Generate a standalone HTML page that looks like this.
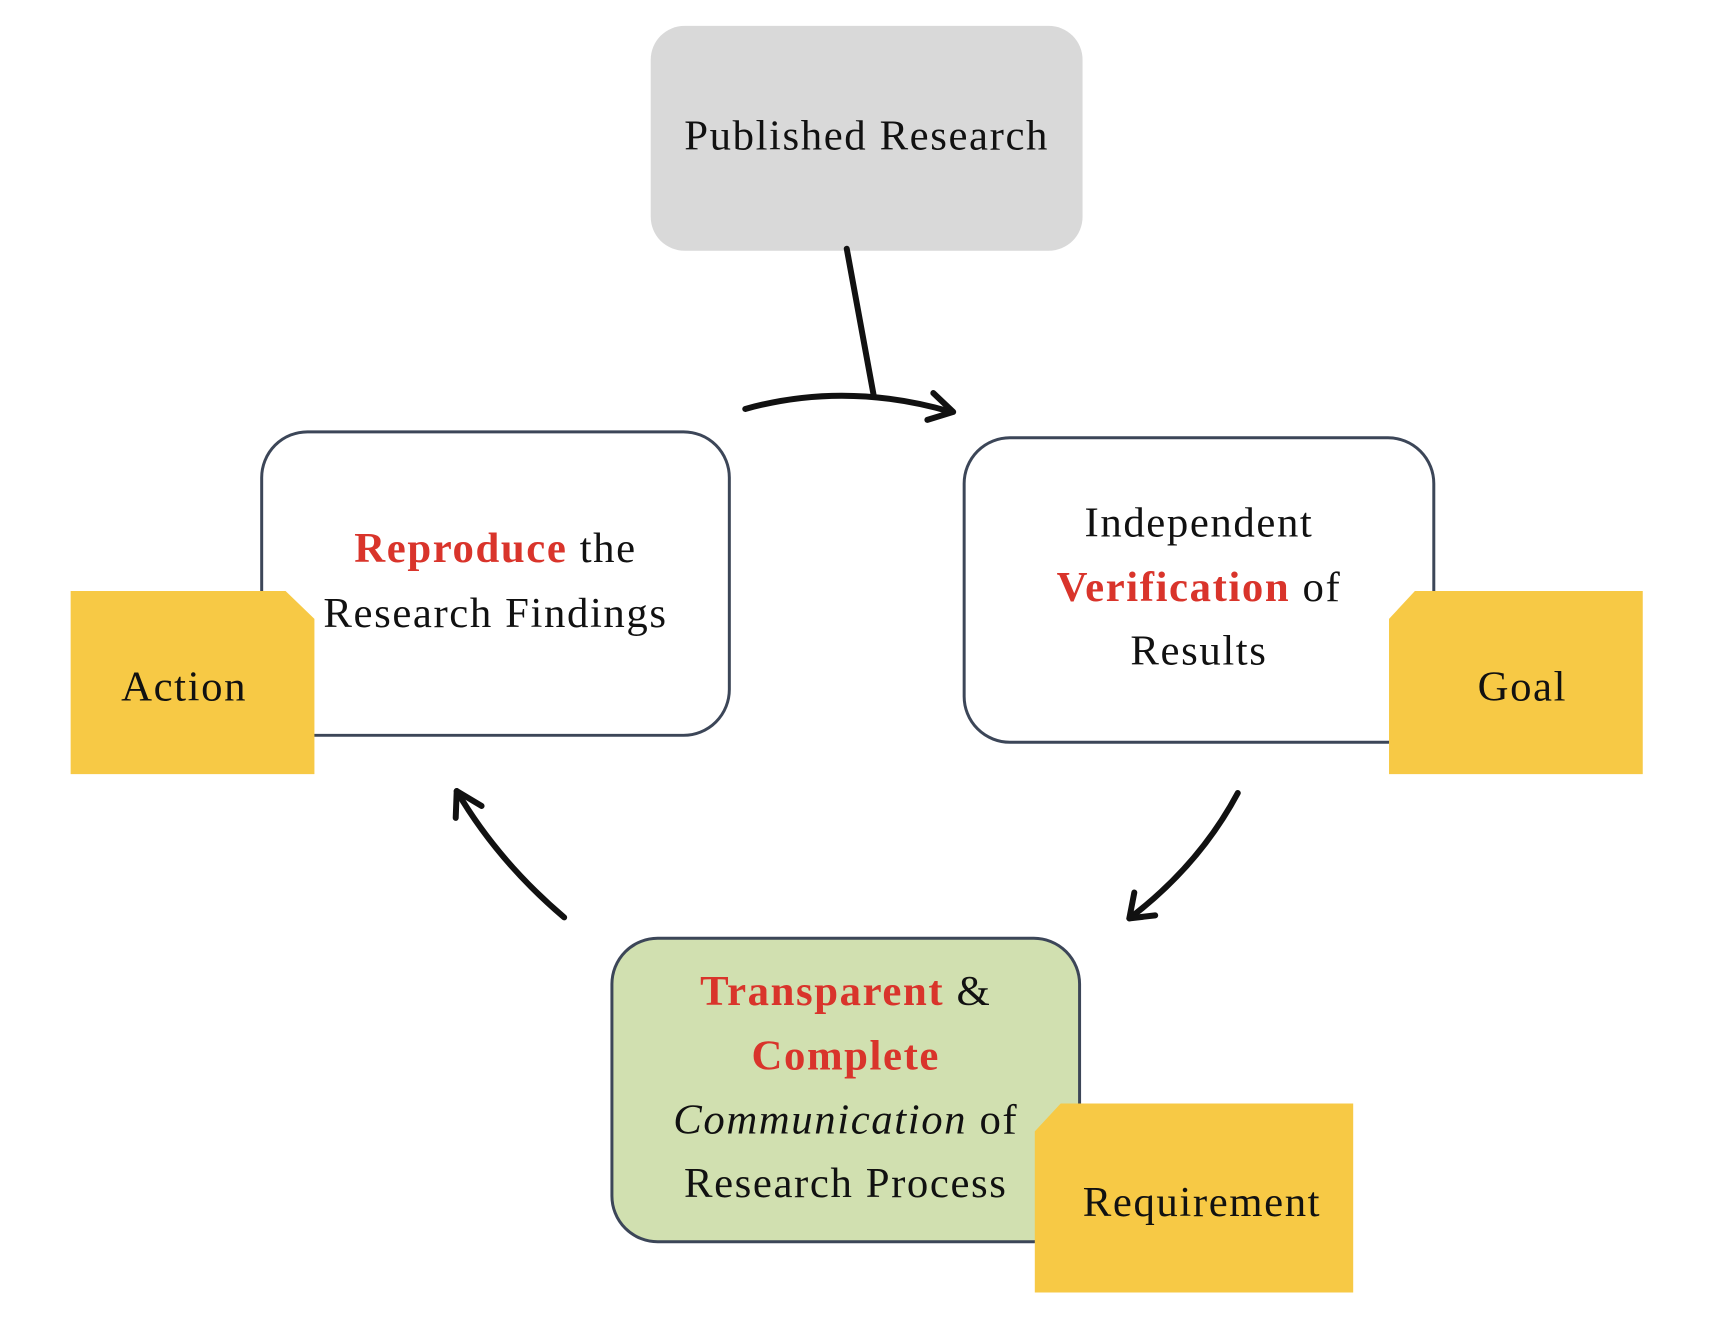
<!DOCTYPE html>
<html><head><meta charset="utf-8"><style>
body{margin:0;background:#fff}
svg text{font-family:"Liberation Serif",serif;font-size:43px;letter-spacing:1.6px;fill:#111}
.r{fill:#d9342b;font-weight:bold}
</style></head><body>
<svg width="1733" height="1316" viewBox="0 0 1733 1316" xmlns="http://www.w3.org/2000/svg">
<g transform="scale(0.995)">
<rect x="654" y="26" width="434" height="226" rx="34" fill="#d9d9d9"/>
<text x="871" y="150" text-anchor="middle">Published Research</text>

<rect x="263" y="434" width="470" height="305" rx="46" fill="#fff" stroke="#3c4658" stroke-width="3"/>
<rect x="969" y="440" width="472" height="306" rx="46" fill="#fff" stroke="#3c4658" stroke-width="3"/>
<rect x="615" y="943" width="470" height="305" rx="46" fill="#d1e0b0" stroke="#3c4658" stroke-width="3"/>

<text x="498" y="565" text-anchor="middle"><tspan class="r">Reproduce</tspan> the</text>
<text x="498" y="630" text-anchor="middle">Research Findings</text>

<text x="1205" y="539" text-anchor="middle">Independent</text>
<text x="1205" y="604" text-anchor="middle"><tspan class="r">Verification</tspan> of</text>
<text x="1205" y="668" text-anchor="middle">Results</text>

<text x="850" y="1010" text-anchor="middle"><tspan class="r">Transparent</tspan> &amp;</text>
<text x="850" y="1075" text-anchor="middle" class="r">Complete</text>
<text x="850" y="1139" text-anchor="middle"><tspan font-style="italic">Communication</tspan> of</text>
<text x="850" y="1203" text-anchor="middle">Research Process</text>

<polygon points="71,594 287,594 316,622 316,778 71,778" fill="#f7c945"/>
<text x="185" y="704" text-anchor="middle">Action</text>
<polygon points="1422,594 1651,594 1651,778 1396,778 1396,622" fill="#f7c945"/>
<text x="1530" y="704" text-anchor="middle">Goal</text>
<polygon points="1066,1109 1360,1109 1360,1299 1040,1299 1040,1137" fill="#f7c945"/>
<text x="1208" y="1222" text-anchor="middle">Requirement</text>

<g fill="none" stroke="#111" stroke-width="6" stroke-linecap="round" stroke-linejoin="round">
<path d="M749,411 Q850,383 956,414"/>
<path d="M938,395 L958,414 L932,422"/>
<path d="M851,250 L878,397"/>
<path d="M1244,797 Q1205,870 1135,923"/>
<path d="M1140,897 L1135,923 L1161,920"/>
<path d="M567,922 Q500,865 459,795"/>
<path d="M458,822 L459,795 L484,810"/>
</g>
</g>
</svg>
</body></html>
